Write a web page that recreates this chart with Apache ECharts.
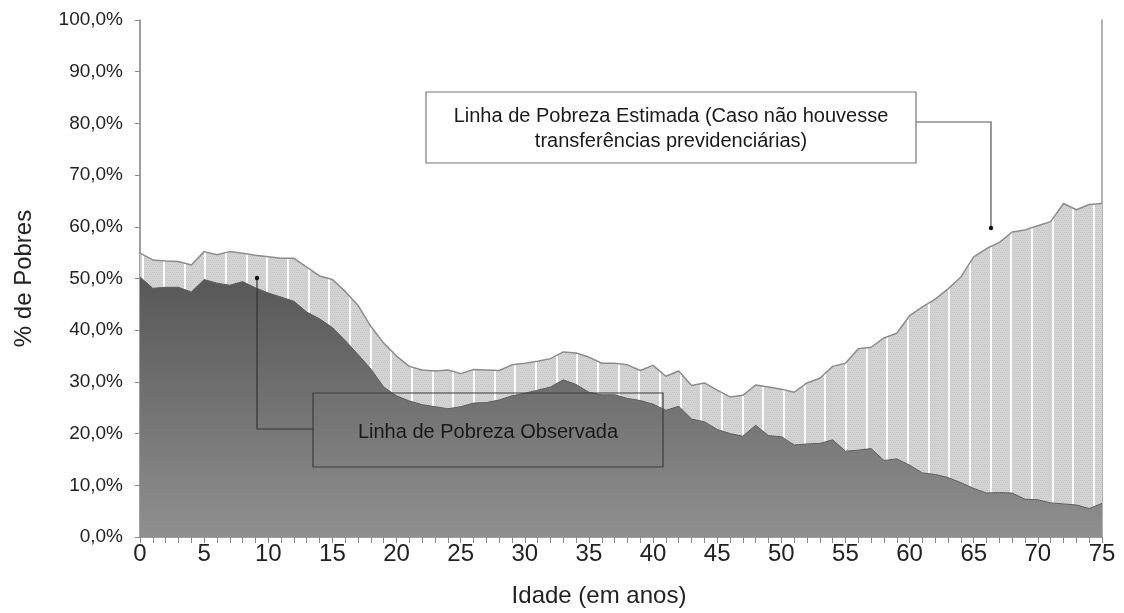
<!DOCTYPE html>
<html>
<head>
<meta charset="utf-8">
<script src="https://cdn.jsdelivr.net/npm/echarts@6/dist/echarts.min.js"></script>
<style>
  html, body { margin: 0; padding: 0; background: #fff; }
  #main { width: 1124px; height: 613px; }
</style>
</head>
<body>
<div id="main"></div>
<script>
// idade (anos)
var ages = [0, 1, 2, 3, 4, 5, 6, 7, 8, 9, 10, 11, 12, 13, 14, 15, 16, 17, 18, 19,
  20, 21, 22, 23, 24, 25, 26, 27, 28, 29, 30, 31, 32, 33, 34, 35, 36, 37, 38, 39,
  40, 41, 42, 43, 44, 45, 46, 47, 48, 49, 50, 51, 52, 53, 54, 55, 56, 57, 58, 59,
  60, 61, 62, 63, 64, 65, 66, 67, 68, 69, 70, 71, 72, 73, 74, 75];

// linha de pobreza observada (%)
var observada = [50.3, 48.1, 48.3, 48.3, 47.4, 49.8, 49.1, 48.7, 49.4, 48.2,
  47.2, 46.4, 45.6, 43.5, 42.2, 40.5, 38.0, 35.3, 32.5, 29.0,
  27.3, 26.3, 25.6, 25.2, 24.8, 25.2, 25.9, 26.0, 26.5, 27.3,
  27.8, 28.4, 29.0, 30.4, 29.5, 28.0, 27.5, 27.5, 26.8, 26.4,
  25.7, 24.5, 25.3, 22.8, 22.3, 20.8, 20.0, 19.5, 21.6, 19.6,
  19.4, 17.8, 18.0, 18.1, 18.8, 16.6, 16.8, 17.1, 14.8, 15.1,
  13.9, 12.4, 12.1, 11.5, 10.5, 9.4, 8.5, 8.6, 8.5, 7.3,
  7.2, 6.6, 6.4, 6.2, 5.5, 6.5];

// linha de pobreza estimada, sem transferências previdenciárias (%)
var estimada = [54.9, 53.6, 53.4, 53.3, 52.6, 55.2, 54.6, 55.2, 54.9, 54.5,
  54.2, 53.9, 53.9, 52.2, 50.5, 49.8, 47.5, 44.8, 40.7, 37.5,
  35.0, 33.0, 32.3, 32.1, 32.3, 31.6, 32.4, 32.3, 32.2, 33.3,
  33.6, 34.0, 34.5, 35.8, 35.6, 34.8, 33.6, 33.6, 33.3, 32.2,
  33.2, 31.1, 32.1, 29.3, 29.8, 28.4, 27.1, 27.4, 29.4, 29.0,
  28.6, 28.0, 29.8, 30.7, 33.0, 33.6, 36.4, 36.7, 38.5, 39.4,
  42.8, 44.5, 46.0, 48.0, 50.3, 54.2, 55.8, 57.0, 59.0, 59.4,
  60.2, 61.0, 64.5, 63.3, 64.3, 64.5];

var yTickLabels = ['0,0%', '10,0%', '20,0%', '30,0%', '40,0%', '50,0%',
  '60,0%', '70,0%', '80,0%', '90,0%', '100,0%'];

// textura listrada da área estimada
function makePattern() {
  var c = document.createElement('canvas');
  c.width = 62;
  c.height = 4;
  var ctx = c.getContext('2d');
  ctx.fillStyle = '#d4d4d4';
  ctx.fillRect(0, 0, 62, 4);
  ctx.fillStyle = '#c6c6c6';
  for (var x = 0; x < 62; x += 2) {
    ctx.fillRect(x, 0, 1, 1);
    ctx.fillRect(x + 1, 2, 1, 1);
  }
  ctx.fillStyle = '#ffffff';
  [18, 39, 60].forEach(function (sx) {
    ctx.fillRect(sx, 0, 2, 4);
  });
  return c;
}

var myChart = echarts.init(document.getElementById('main'));
var font = '"Liberation Sans", Arial, sans-serif';

var option = {
  backgroundColor: '#fff',
  animation: false,
  grid: { left: 140, right: 22, top: 20, bottom: 76 },
  xAxis: {
    type: 'category',
    data: ages,
    boundaryGap: false,
    name: 'Idade (em anos)',
    nameLocation: 'middle',
    nameGap: 47,
    nameTextStyle: { fontFamily: font, fontSize: 24, color: '#222', padding: [0, 44, 0, 0] },
    axisLine: { lineStyle: { color: '#7e7e7e', width: 1.5 } },
    axisTick: { interval: 0, length: 6, lineStyle: { color: '#8a8a8a' } },
    axisLabel: {
      interval: 4,
      margin: 5,
      fontFamily: font,
      fontSize: 24,
      color: '#222'
    },
    splitLine: { show: false }
  },
  yAxis: [{
    type: 'value',
    min: 0,
    max: 100,
    interval: 10,
    name: '% de Pobres',
    nameLocation: 'middle',
    nameGap: 104,
    nameTextStyle: { fontFamily: font, fontSize: 24, color: '#222' },
    axisLine: { show: true, lineStyle: { color: '#7e7e7e', width: 1.5 } },
    axisTick: { show: true, length: 5, lineStyle: { color: '#8a8a8a' } },
    axisLabel: {
      margin: 17,
      fontFamily: font,
      fontSize: 19,
      color: '#222',
      formatter: function (v) { return yTickLabels[Math.round(v / 10)]; }
    },
    splitLine: { show: false }
  }, {
    type: 'value',
    min: 0,
    max: 100,
    position: 'right',
    axisLine: { show: true, lineStyle: { color: '#9a9a9a', width: 1.5 } },
    axisTick: { show: false },
    axisLabel: { show: false },
    splitLine: { show: false }
  }],
  series: [{
    name: 'Estimada',
    type: 'line',
    data: estimada,
    symbol: 'none',
    z: 2,
    lineStyle: { color: '#8c8c8c', width: 1.5 },
    areaStyle: { color: { image: makePattern(), repeat: 'repeat' }, opacity: 1 }
  }, {
    name: 'Observada',
    type: 'line',
    data: observada,
    symbol: 'none',
    z: 3,
    lineStyle: { color: '#5e5e5e', width: 1 },
    areaStyle: {
      opacity: 1,
      color: new echarts.graphic.LinearGradient(0, 0, 0, 1, [
        { offset: 0, color: '#575757' },
        { offset: 1, color: '#8f8f8f' }
      ])
    }
  }],
  graphic: [
    // caixa observada + conector
    {
      type: 'polyline', z: 100,
      shape: { points: [[313, 429], [257, 429], [257, 278]] },
      style: { stroke: '#333', lineWidth: 1.2, fill: null }
    },
    {
      type: 'circle', z: 101,
      shape: { cx: 257, cy: 278, r: 2.2 },
      style: { fill: '#111' }
    },
    {
      type: 'rect', z: 100,
      shape: { x: 313, y: 393, width: 350, height: 74 },
      style: { stroke: '#3c3c3c', lineWidth: 1.2, fill: 'rgba(0,0,0,0)' }
    },
    {
      type: 'text', z: 101,
      x: 488, y: 432,
      style: {
        text: 'Linha de Pobreza Observada',
        font: '20px ' + font,
        fill: '#1a1a1a',
        align: 'center',
        verticalAlign: 'middle'
      }
    },
    // caixa estimada + conector
    {
      type: 'polyline', z: 100,
      shape: { points: [[916, 122], [991, 122], [991, 228]] },
      style: { stroke: '#555', lineWidth: 1.2, fill: null }
    },
    {
      type: 'circle', z: 101,
      shape: { cx: 991, cy: 228, r: 2.2 },
      style: { fill: '#111' }
    },
    {
      type: 'rect', z: 100,
      shape: { x: 426, y: 92, width: 490, height: 71 },
      style: { stroke: '#777', lineWidth: 1.2, fill: '#fff' }
    },
    {
      type: 'text', z: 101,
      x: 671, y: 129,
      style: {
        text: 'Linha de Pobreza Estimada (Caso não houvesse\ntransferências previdenciárias)',
        font: '20px ' + font,
        lineHeight: 25,
        fill: '#1a1a1a',
        align: 'center',
        verticalAlign: 'middle'
      }
    }
  ]
};

myChart.setOption(option);
window.onresize = function () {
  myChart.resize();
};
</script>
</body>
</html>
